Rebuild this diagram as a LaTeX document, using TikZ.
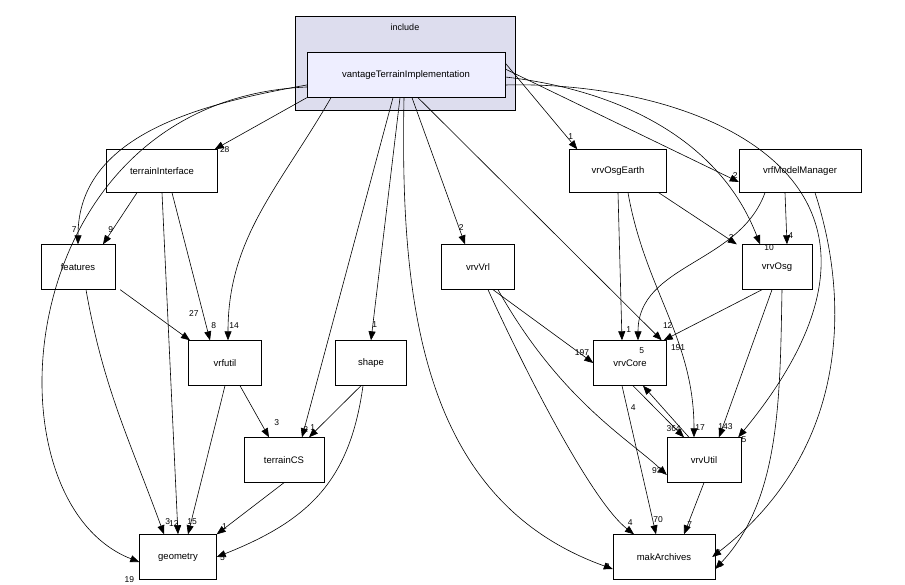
\documentclass[tikz,border=0pt]{standalone}
\usepackage{fontspec}
\setmainfont{Liberation Sans}
\usetikzlibrary{arrows.meta}

\begin{document}
\begin{tikzpicture}[x=1pt, y=-1pt,
		   every node/.style={font=\fontsize{9.5}{11}\selectfont},
		   dir/.style={rectangle, draw=black, fill=white, minimum height=45pt, inner sep=2pt},
		   dep/.style={-{Triangle[length=9pt,width=7pt]}, line width=0.6pt},
		   lbl/.style={font=\fontsize{8.5}{10}\selectfont, inner sep=1pt}]
\useasboundingbox (0,0) rectangle (905,585);
\filldraw[draw=black, fill={rgb,255:red,221;green,221;blue,238}] (295,16) rectangle (515,110);
\node[font=\fontsize{9}{11}\selectfont] at (405,27) {include};
\node[dir, fill={rgb,255:red,238;green,238;blue,255}, minimum width=198pt] (vti) at (406,75) {vantageTerrainImplementation};
\node[dir, minimum width=111pt, minimum height=43pt] (ti) at (162,171) {terrainInterface};
\node[dir, minimum width=74pt] (feat) at (78,267) {features};
\node[dir, minimum width=73pt] (vfu) at (225,363) {vrfutil};
\node[dir, minimum width=80pt] (tcs) at (284,460) {terrainCS};
\node[dir, minimum width=77pt] (geo) at (178,557) {geometry};
\node[dir, minimum width=71pt] (shape) at (371,363) {shape};
\node[dir, minimum width=73pt] (vrl) at (478,267) {vrvVrl};
\node[dir, minimum width=97pt, minimum height=43pt] (ose) at (618,171) {vrvOsgEarth};
\node[dir, minimum width=122pt, minimum height=43pt] (vmm) at (800,171) {vrfModelManager};
\node[dir, minimum width=70pt] (osg) at (777,267) {vrvOsg};
\node[dir, minimum width=73pt] (core) at (630,363) {vrvCore};
\node[dir, minimum width=74pt] (util) at (704,460) {vrvUtil};
\node[dir, minimum width=102pt] (mak) at (664,557) {makArchives};

% from vantageTerrainImplementation
\draw[dep] (vti.south west) -- ([xshift=-3pt]ti.north east) node[lbl, anchor=west, xshift=4pt] {28};
\draw[dep] ([yshift=-10pt]vti.west) to[out=190, in=90] (feat.north) node[lbl, anchor=south east, yshift=10pt] {7};
\draw[dep] ([yshift=-12pt]vti.west) .. controls (10,100) and (-20,500) .. ([yshift=-5pt]geo.west) node[lbl, anchor=south east, xshift=-4pt, yshift=-22pt] {19};
\draw[dep] ([xshift=-75pt]vti.south) to[out=240, in=90] ([xshift=3pt]vfu.north) node[lbl, anchor=south west, yshift=10pt] {14};
\draw[dep] ([xshift=-13pt]vti.south) -- ([xshift=18pt]tcs.north) node[lbl, anchor=south west, yshift=4pt] {2};
\draw[dep] ([xshift=-6pt]vti.south) -- (shape.north) node[lbl, anchor=south west, yshift=12pt] {1};
\draw[dep] ([xshift=-2pt]vti.south) .. controls (400,300) and (420,500) .. ([yshift=-12pt]mak.west) node[lbl, anchor=south east, xshift=-2pt, yshift=-2pt] {2};
\draw[dep] ([xshift=6pt]vti.south) -- ([xshift=-13pt]vrl.north) node[lbl, anchor=south east, yshift=12pt] {2};
\draw[dep] ([xshift=12pt]vti.south) -- ([xshift=-5pt]core.north east) node[lbl, anchor=south west, yshift=10pt] {12};
\draw[dep] ([yshift=12pt]vti.east) -- ([xshift=8pt]ose.north west) node[lbl, anchor=south east, yshift=8pt, xshift=-3pt] {1};
\draw[dep] ([yshift=6pt]vti.east) -- ([yshift=-11pt]vmm.west) node[lbl, anchor=south east, yshift=2pt] {2};
\draw[dep] ([yshift=-2pt]vti.east) .. controls (620,90) and (720,140) .. ([xshift=-17pt]osg.north) node[lbl, anchor=south west, xshift=3pt, yshift=-8pt] {10};
\draw[dep] ([yshift=-10pt]vti.east) .. controls (700,80) and (950,180) .. ([xshift=-3pt]util.north east) node[lbl, anchor=north west, xshift=2pt, yshift=2pt] {5};

% terrainInterface
\draw[dep] ([xshift=-25pt]ti.south) -- ([xshift=25pt]feat.north) node[lbl, anchor=south west, yshift=10pt, xshift=4pt] {9};
\draw[dep] ([xshift=10pt]ti.south) -- ([xshift=-15pt]vfu.north) node[lbl, anchor=south west, yshift=10pt] {8};
\draw[dep] (ti.south) -- ([xshift=0pt]geo.north) node[lbl, anchor=south east, yshift=7pt, xshift=2pt] {12};

% features
\draw[dep] ([xshift=5pt]feat.south east) -- ([xshift=-35pt]vfu.north) node[lbl, anchor=south east, yshift=22pt, xshift=10pt] {27};
\draw[dep] ([xshift=8pt]feat.south) to[out=280, in=110] ([xshift=-14pt]geo.north) node[lbl, anchor=south west, yshift=8pt] {3};

% vrfutil, shape, terrainCS
\draw[dep] (vfu.south) -- ([xshift=10pt]geo.north) node[lbl, anchor=south west, yshift=8pt, xshift=-2pt] {15};
\draw[dep] ([xshift=15pt]vfu.south) -- ([xshift=-15pt]tcs.north) node[lbl, anchor=south west, yshift=10pt, xshift=4pt] {3};
\draw[dep] ([xshift=-10pt]shape.south) -- ([xshift=25pt]tcs.north) node[lbl, anchor=south west, yshift=6pt] {1};
\draw[dep] ([xshift=-8pt]shape.south) .. controls (350,480) and (310,520) .. (geo.east) node[lbl, anchor=north west, yshift=4pt, xshift=2pt] {5};
\draw[dep] (tcs.south) -- ([xshift=0pt]geo.north east) node[lbl, anchor=south west, yshift=4pt, xshift=4pt] {1};

% vrvVrl
\draw[dep] ([xshift=15pt]vrl.south) -- (core.west) node[lbl, anchor=south east, yshift=6pt, xshift=-3pt] {197};
\draw[dep] ([xshift=20pt]vrl.south) .. controls (560,400) and (630,440) .. ([yshift=-15pt]util.west) node[lbl, anchor=south east, xshift=-4pt] {93};
\draw[dep] ([xshift=10pt]vrl.south) .. controls (520,360) and (590,500) .. ([xshift=-30pt]mak.north) node[lbl, anchor=south east, yshift=8pt] {4};

% vrvOsgEarth
\draw[dep] ([xshift=0pt]ose.south) -- ([xshift=-8pt]core.north) node[lbl, anchor=south west, yshift=6pt, xshift=3pt] {1};
\draw[dep] ([xshift=10pt]ose.south) to[out=280, in=90] ([xshift=-10pt]util.north) node[lbl, anchor=south west, yshift=6pt] {17};
\draw[dep] ([xshift=-8pt]ose.south east) -- ([xshift=-5pt]osg.north west) node[lbl, anchor=south east, yshift=2pt, xshift=-2pt] {2};

% vrfModelManager
\draw[dep] ([xshift=-15pt]vmm.south) -- ([xshift=10pt]osg.north) node[lbl, anchor=south west, yshift=4pt] {4};
\draw[dep] ([xshift=-35pt]vmm.south) to[out=250, in=90] ([xshift=8pt]core.north) node[lbl, anchor=north west, yshift=-6pt, xshift=0pt] {5};
\draw[dep] ([xshift=15pt]vmm.south) .. controls (850,300) and (850,450) .. ([xshift=-3pt]mak.east) node[lbl, anchor=south west, xshift=3pt] {1};

% vrvOsg
\draw[dep] ([xshift=-15pt]osg.south) -- ([xshift=-3pt]core.north east) node[lbl, anchor=north west, xshift=6pt, yshift=-3pt] {191};
\draw[dep] ([xshift=-5pt]osg.south) -- ([xshift=15pt]util.north) node[lbl, anchor=south west, yshift=6pt, xshift=-2pt] {143};
\draw[dep] ([xshift=5pt]osg.south) .. controls (780,400) and (780,500) .. ([yshift=-12pt]mak.east) node[lbl, anchor=south west, xshift=1pt] {3};

% vrvCore, vrvUtil
\draw[dep] ([xshift=3pt]core.south) -- ([xshift=-20pt]util.north) node[lbl, anchor=south east, yshift=4pt, xshift=-2pt] {364};
\draw[dep] ([xshift=-15pt]util.north) -- ([xshift=13pt]core.south) node[lbl, anchor=north east, yshift=-18pt, xshift=-6pt] {4};
\draw[dep] ([xshift=-8pt]core.south) -- ([xshift=-8pt]mak.north) node[lbl, anchor=south west, yshift=10pt, xshift=-4pt] {70};
\draw[dep] (util.south) -- ([xshift=20pt]mak.north) node[lbl, anchor=south west, yshift=6pt, xshift=2pt] {7};
\end{tikzpicture}
\end{document}
